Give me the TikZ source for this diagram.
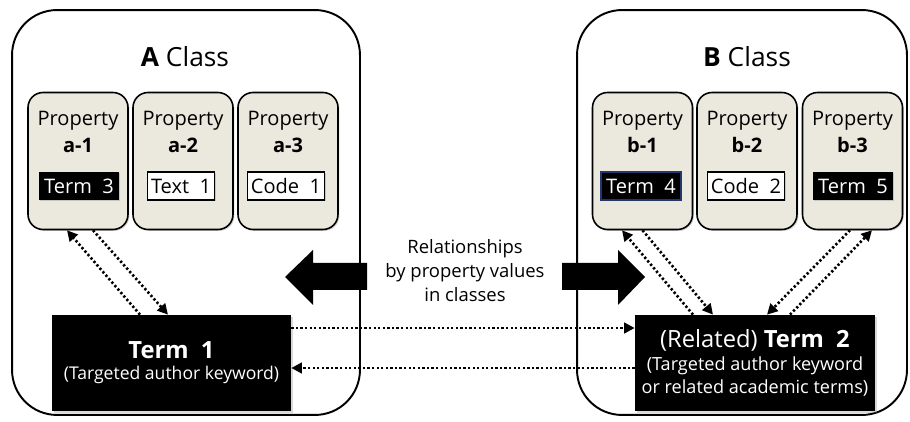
\documentclass[tikz,border=0pt]{standalone}
\usepackage{fontspec}
\setmainfont{Open Sans}
\usetikzlibrary{arrows.meta,shadows}
\definecolor{propfill}{RGB}{235,233,222}
\definecolor{navyedge}{RGB}{35,55,110}

\begin{document}
\begin{tikzpicture}[x=0.02cm, y=-0.02cm,
        classbox/.style = {draw, line width=1.1pt, rounded corners=0.9cm, minimum width=#1, minimum height=8.1cm},
        propbox/.style = {draw, line width=0.9pt, rounded corners=0.3cm, fill=propfill, minimum width=2cm, minimum height=2.74cm,
            drop shadow={opacity=0.35, shadow xshift=0.8pt, shadow yshift=-0.8pt}},
        proptext/.style = {align=center, font=\fontsize{11.4}{15.5}\selectfont},
        valdark/.style = {fill=black, text=white, minimum height=0.56cm, inner xsep=3pt, font=\fontsize{11.4}{13}\selectfont,
            drop shadow={opacity=0.35, shadow xshift=0.8pt, shadow yshift=-0.8pt}},
        vallight/.style = {draw, line width=0.9pt, fill=white, minimum height=0.56cm, inner xsep=2pt, font=\fontsize{11.4}{13}\selectfont,
            drop shadow={opacity=0.35, shadow xshift=0.8pt, shadow yshift=-0.8pt}},
        termbox/.style = {fill=black, text=white, minimum width=4.8cm, minimum height=1.92cm, align=center,
            drop shadow={opacity=0.3, shadow xshift=1pt, shadow yshift=-1pt}},
        dotarrow/.style = {-{Triangle[length=6pt,width=6pt]}, line width=1.5pt, dash pattern=on 1.3pt off 1.3pt}]
        \useasboundingbox (0,0) rectangle (910,422);

        \node[classbox=6.96cm] (clsA) at (186,212.5) {};
        \node[classbox=6.6cm] (clsB) at (742,212.5) {};
        \node[font=\fontsize{15}{18}\selectfont] (titA) at (185,57) {\textbf{A} Class};
        \node[font=\fontsize{15}{18}\selectfont] (titB) at (747,57) {\textbf{B} Class};

        \node[propbox] (a1) at (78,161) {};
        \node[propbox] (a2) at (183,161) {};
        \node[propbox] (a3) at (288,161) {};
        \node[propbox] (b1) at (642.5,161) {};
        \node[propbox] (b2) at (747,161) {};
        \node[propbox] (b3) at (852.5,161) {};

        \node[proptext] (a1t) at (78,132) {Property\\\textbf{a-1}};
        \node[proptext] (a2t) at (183,132) {Property\\\textbf{a-2}};
        \node[proptext] (a3t) at (288,132) {Property\\\textbf{a-3}};
        \node[proptext] (b1t) at (642.5,132) {Property\\\textbf{b-1}};
        \node[proptext] (b2t) at (747,132) {Property\\\textbf{b-2}};
        \node[proptext] (b3t) at (852.5,132) {Property\\\textbf{b-3}};

        \node[valdark] (a1v) at (79,186) {Term~~3};
        \node[vallight] (a2v) at (181,186) {Text~~1};
        \node[vallight] (a3v) at (286,186) {Code~~1};
        \node[valdark, draw=navyedge, line width=1pt] (b1v) at (641,186) {Term~~4};
        \node[vallight] (b2v) at (746,186) {Code~~2};
        \node[valdark] (b3v) at (853,186) {Term~~5};

        \node[termbox, minimum width=4.78cm, font=\fontsize{10}{12}\selectfont] (t1) at (171.5,363)
            {{\fontsize{13.5}{15}\selectfont\textbf{Term~~1}}\\(Targeted author keyword)};
        \node[termbox, font=\fontsize{10.3}{13}\selectfont] (t2) at (755,363)
            {{\fontsize{13.5}{15}\selectfont(Related) \textbf{Term~~2}}\\(Targeted author keyword\\or related academic terms)};

        \fill (367,263) -- (313,263) -- (313,250) -- (285,277) -- (313,305) -- (313,290) -- (367,290) -- cycle;
        \fill (562,263) -- (618,263) -- (618,250) -- (645,277) -- (618,305) -- (618,290) -- (562,290) -- cycle;
        \node[align=center, font=\fontsize{10.5}{13.7}\selectfont] (rel) at (465,271)
            {Relationships\\by property values\\in classes};

        \draw[dotarrow] ([xshift=-0.63cm]t1.north) -- ([xshift=-0.22cm]a1.south);
        \draw[dotarrow] ([xshift=0.3cm]a1.south) -- ([xshift=-0.07cm]t1.north);
        \draw[dotarrow] ([xshift=-1.24cm]t2.north) -- ([xshift=-0.41cm]b1.south);
        \draw[dotarrow] (b1.south) -- ([xshift=-0.84cm]t2.north);
        \draw[dotarrow] ([xshift=-0.05cm]b3.south) -- ([xshift=0.24cm]t2.north);
        \draw[dotarrow] ([xshift=0.7cm]t2.north) -- ([xshift=0.39cm]b3.south);
        \draw[dotarrow] ([yshift=0.7cm]t1.east) -- ([yshift=0.7cm]t2.west);
        \draw[dotarrow] ([yshift=-0.1cm]t2.west) -- ([yshift=-0.1cm]t1.east);
\end{tikzpicture}
\end{document}
